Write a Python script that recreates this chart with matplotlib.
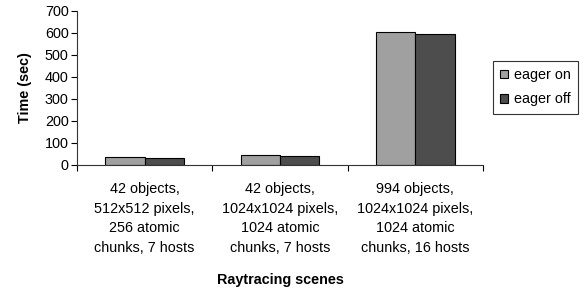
import numpy as np
import matplotlib.pyplot as plt
from matplotlib.patches import Patch

scenes = ["42 objects,\n512x512 pixels,\n256 atomic\nchunks, 7 hosts",
          "42 objects,\n1024x1024 pixels,\n1024 atomic\nchunks, 7 hosts",
          "994 objects,\n1024x1024 pixels,\n1024 atomic\nchunks, 16 hosts"]
eager_on = [35, 45, 605]
eager_off = [34, 39, 596]

plt.rcParams['font.family'] = ['Liberation Sans', 'DejaVu Sans']
plt.rcParams['font.size'] = 10.4

fig = plt.figure(figsize=(5.85, 2.91), dpi=100)
ax = fig.add_axes([0.1316, 0.433, 0.694, 0.530])

x = np.arange(len(scenes))
w = 0.29
ax.bar(x - w / 2, eager_on, w, color="#a0a0a0", edgecolor="black", linewidth=0.8, label="eager on")
ax.bar(x + w / 2, eager_off, w, color="#4d4d4d", edgecolor="black", linewidth=0.8, label="eager off")

ax.set_xlim(-0.5, len(scenes) - 0.5)
ax.set_ylim(0, 700)
ax.set_yticks(np.arange(0, 701, 100))

# boundaries get the tick marks, labels sit in the middle
ax.set_xticks(np.arange(-0.5, len(scenes), 1.0))
ax.set_xticklabels([])
ax.set_xticks(x, minor=True)
ax.set_xticklabels(scenes, minor=True, linespacing=1.5)
ax.tick_params(axis='x', which='minor', length=0, pad=12.5)
ax.tick_params(axis='x', which='major', length=4, direction='out', width=0.8)
ax.tick_params(axis='y', length=4, direction='out', width=0.8, pad=2)

for s in ['top', 'right']:
    ax.spines[s].set_visible(False)
for s in ['left', 'bottom']:
    ax.spines[s].set_color('#333333')

ax.set_ylabel("Time (sec)", fontweight='bold', labelpad=9.5)
ax.set_xlabel("Raytracing scenes", fontweight='bold', labelpad=13)

handles = [Patch(facecolor="#a0a0a0", edgecolor="black", linewidth=0.8, label="eager on"),
           Patch(facecolor="#4d4d4d", edgecolor="black", linewidth=0.8, label="eager off")]
leg = fig.legend(handles=handles, loc='center left', bbox_to_anchor=(0.843, 0.70),
                 frameon=True, fancybox=False, edgecolor='black', handlelength=0.55,
                 handleheight=0.55, handletextpad=0.4, labelspacing=0.7, borderpad=0.5,
                 borderaxespad=0)
leg.get_frame().set_linewidth(0.8)

fig.savefig("out.png", dpi=100)
